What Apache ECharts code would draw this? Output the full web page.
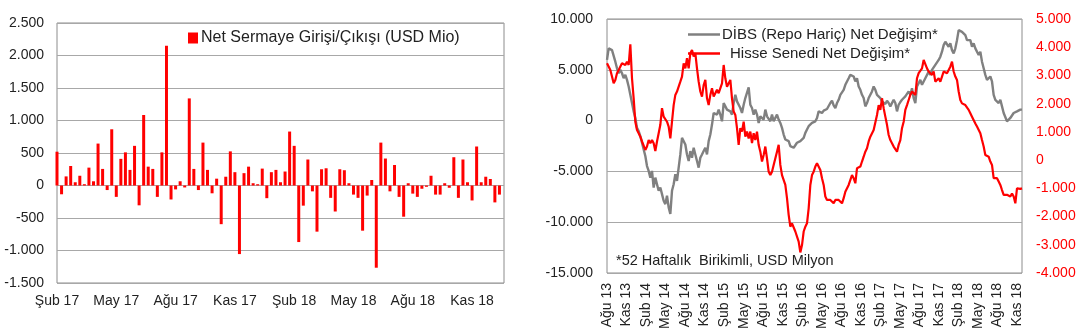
<!DOCTYPE html>
<html>
<head>
<meta charset="utf-8">
<script src="https://cdn.jsdelivr.net/npm/echarts@6/dist/echarts.min.js"></script>
<style>
  html, body { margin: 0; padding: 0; background: #ffffff; }
  #chart { width: 1081px; height: 335px; }
</style>
</head>
<body>
<div id="chart"></div>
<script>
// Weekly net capital flow, USD mn (Feb 2017 - Dec 2018)
const netFlows = [
  520, -135, 140, 300, 50, 150, 20, 275, 65, 645,
  255, -70, 865, -175, 410, 510, 240, 610, -305, 1085,
  290, 255, -175, 510, 2150, -215, -60, 65, -30, 1340,
  255, -70, 660, 240, -120, 105, -595, 135, 525, 205,
  -1055, 190, 290, 35, 20, 260, -195, 205, 240, 50,
  215, 830, 610, -870, -310, 400, -90, -710, 250, 265,
  -190, -400, 250, 235, 35, -140, -190, -695, -155, 85,
  -1265, 660, 415, -90, 315, -175, -480, 35, -125, -175,
  -50, -20, 150, -140, -140, 35, -35, 435, -190, 400,
  50, -230, 600, 50, 135, 100, -260, -140
];
const barTickLabels = ['Şub 17', 'May 17', 'Ağu 17', 'Kas 17', 'Şub 18', 'May 18', 'Ağu 18', 'Kas 18'];

// 52-week cumulative changes, USD mn (Aug 2013 - Dec 2018)
const dibsChange = [
  5970, 7110, 7270, 6940, 7110, 5800, 5150, 4660, 4990, 4660,
  4170, 4500, 4010, 3360, 2540, 1730, 910, 260, -720, -1040,
  -1530, -2180, -2840, -3490, -4470, -4960, -5610, -4960, -6590, -5610,
  -6260, -6910, -6590, -7240, -7890, -8220, -7400, -8540, -9190, -6910,
  -6260, -5280, -5930, -4630, -3330, -1700, -1530, -2350, -3330, -3980,
  -3000, -3650, -2670, -3330, -3980, -4630, -3650, -3330, -3000, -2670,
  -3330, -2020, -1370, -390, 750, 910, 590, 1080, 590, -70,
  1730, 1560, 1080, 1240, 910, 590, 1730, 2540, 1890, 1730,
  1240, 750, 1560, 2220, 2050, 3260, 1560, 1240, 590, 1080,
  590, -230, 420, 260, 100, 1080, 420, 590, -70, 590,
  -70, 100, 590, 100, -230, -720, -1370, -1860, -2020, -2020,
  -2510, -2350, -2670, -2840, -2180, -2350, -2020, -2180, -1700, -1210,
  -880, -550, -390, -230,
  -390, -70, 260, 910, 850, 750,
  980, 1080, 1140, 1240, 1730, 1960, 1500, 1240, 1730, 2050,
  2540, 2710, 3030, 3520, 3850, 4170, 4500, 4430, 4340, 3850,
  4170, 3360, 3030, 2540, 2220, 1400, 1730, 2220, 2380, 2870,
  3360, 3030, 2540, 2380, 2220, 1890, 1730, 1630, 1960, 1730,
  1400, 1560, 2050, 1730, 910, 1560, 1830, 2050, 1960, 2380,
  2540, 2870, 2540, 3190, 2220, 1730, 3360, 3680, 4010, 3520,
  3850, 4170, 4010, 4820, 4500, 4990, 5150, 5480, 5310, 5970,
  6290, 6780, 7430, 7760, 7600, 7270, 7600, 6940, 6620, 7110,
  7920, 8900, 9060, 8740, 8570, 8410, 7920, 7760, 7920, 7270,
  7600, 7110, 6940, 6450, 6780, 5800, 5150, 4500, 4010, 4170,
  4340, 3850, 2540, 2050, 1890, 1730, 2050, 1400, 750, 590,
  -70, -230, 260, 420, 750, 590, 910, 1080, 1080, 1080
];
const equityChange = [
  3430, 3370, 3190, 2960, 2720, 2840, 3080, 3190, 3250, 3430,
  3490, 3370, 3490, 3370, 4100, 2900, 2190, 1360, 1070, 950,
  830, 660, 600, 360, 480, 710, 600, 710, 600, 320,
  660, 950, 1250, 1840, 1540, 1600, 1360, 1190, 770, 1360,
  1950, 2310, 2430, 2490, 2780, 2960, 3430, 3250, 3610, 3250,
  3790, 3900, 3670, 3790, 3250, 2780, 2430, 2250, 2660, 2840,
  2190, 1950, 2310, 2550, 2250, 2370, 2490, 2370, 2430, 2720,
  3370, 2900, 2600, 2600, 2840, 2190, 1720, 1600, 1130, 540,
  1130, 1010, 1360, 830, 1010, 770, 1010, 600, 950, 710,
  1010, 540, 300, -50, 180, 480, 60, -410, -530, -410,
  -170, -110, 300, 540, -170, -530, -470, -880, -1350, -1940,
  -2360, -2240, -2300, -2530, -2590, -2890, -3270,
  -3010, -2530, -2360, -2240, -1710, -880, -530,
  -410, -230, -110, -50, -350, -640,
  -880, -1290, -1410, -1350, -1410, -1470, -1530, -1410, -1470, -1410,
  -1470, -1530, -1350, -1120, -1060, -880, -820, -530, -640, -820,
  -290, -230, -230, -50, 120, 300, 420, 660, 830, 830,
  1070, 1130, 1600, 1950, 1780, 2190, 1840, 1540, 1250, 890,
  710, 600, 480, 420, 300, 540, 710, 1130, 1360, 1780,
  1950, 2130, 2310, 2430, 2490, 2310, 2900, 3080, 3140, 3250,
  3550, 3490, 3250, 3140, 3190, 3020, 3140, 2780, 2720, 2900,
  2780, 2960, 3140, 3190, 3080, 3020, 3310, 3490, 3140, 2960,
  2840, 2430, 2130, 2010, 2070, 1950, 1900, 1780, 1660, 1540,
  1480, 1300, 1190, 1130, 950, 710, 480, 180, 180, 120,
  -50, -170, -640, -700, -640, -760, -880, -1060, -1230, -1290,
  -1230, -1230, -1290, -1180, -1290, -1530, -1000, -1000, -1020, -1000
];
const quarterLabels = [
  'Ağu 13', 'Kas 13', 'Şub 14', 'May 14', 'Ağu 14', 'Kas 14', 'Şub 15', 'May 15',
  'Ağu 15', 'Kas 15', 'Şub 16', 'May 16', 'Ağu 16', 'Kas 16', 'Şub 17', 'May 17',
  'Ağu 17', 'Kas 17', 'Şub 18', 'May 18', 'Ağu 18', 'Kas 18'
];

const BAR_NAME = 'Net Sermaye Girişi/Çıkışı (USD Mio)';
const DIBS_NAME = 'DİBS (Repo Hariç) Net Değişim*';
const EQ_NAME = 'Hisse Senedi Net Değişim*';
const NOTE = '*52 Haftalık  Birikimli, USD Milyon';

// week slots for the bar chart (one spare slot at the end of the axis)
const barWeeks = Array.from({ length: netFlows.length + 1 }, (_, i) => 'H' + (i + 1));
const lineSteps = dibsChange.map((_, i) => String(i));

const FONT = '"Liberation Sans", Arial, sans-serif';
const TEXT = '#222222';

function fmtTr(v) {
  const s = String(Math.abs(v)).replace(/\B(?=(\d{3})+(?!\d))/g, '.');
  return (v < 0 ? '-' : '') + s;
}

const chart = echarts.init(document.getElementById('chart'), null, { renderer: 'canvas' });

chart.setOption({
  animation: false,
  backgroundColor: '#ffffff',
  textStyle: { fontFamily: FONT },
  grid: [
    { left: 57, top: 23, width: 447, height: 260, show: true, borderColor: '#8c8c8c', borderWidth: 1, backgroundColor: 'transparent' },
    { left: 607, top: 19, width: 415, height: 254, show: true, borderColor: '#8c8c8c', borderWidth: 1, backgroundColor: 'transparent' }
  ],
  legend: [
    {
      data: [BAR_NAME],
      left: 188, top: 30, padding: 0,
      icon: 'rect', itemWidth: 10, itemHeight: 11,
      textStyle: { fontFamily: FONT, fontSize: 16, color: TEXT, padding: [0, 0, 0, -2] },
      selectedMode: false
    },
    {
      data: [DIBS_NAME, { name: EQ_NAME, textStyle: { padding: [0, 0, 0, 5] } }],
      orient: 'vertical',
      left: 688, top: 27, padding: 0,
      icon: 'rect', itemWidth: 32, itemHeight: 2.5, itemGap: 4,
      textStyle: { fontFamily: FONT, fontSize: 15, color: TEXT, padding: [0, 0, 0, -3] },
      selectedMode: false
    }
  ],
  xAxis: [
    {
      gridIndex: 0, type: 'category', data: barWeeks, boundaryGap: false,
      axisLine: { show: false }, axisTick: { show: false }, splitLine: { show: false },
      axisLabel: {
        interval: (i) => i % 13 === 0,
        formatter: (v, i) => barTickLabels[i / 13] || '',
        color: TEXT, fontFamily: FONT, fontSize: 14, margin: 11
      }
    },
    {
      gridIndex: 1, type: 'category', data: lineSteps, boundaryGap: false, show: false
    },
    {
      gridIndex: 1, type: 'value', position: 'bottom',
      min: 0, max: 21.26, interval: 1,
      axisLine: { show: false }, axisTick: { show: false }, splitLine: { show: false },
      axisLabel: {
        rotate: 90, margin: 10, showMaxLabel: false,
        formatter: (v) => Number.isInteger(v) ? (quarterLabels[v] || '') : '',
        color: TEXT, fontFamily: FONT, fontSize: 14
      }
    }
  ],
  yAxis: [
    {
      gridIndex: 0, type: 'value', min: -1500, max: 2500, interval: 500,
      axisLine: { show: false }, axisTick: { show: false },
      splitLine: { lineStyle: { color: '#a8a8a8', width: 1 } },
      axisLabel: { formatter: fmtTr, color: TEXT, fontFamily: FONT, fontSize: 14, margin: 13 }
    },
    {
      gridIndex: 1, type: 'value', min: -15000, max: 10000, interval: 5000,
      axisLine: { show: false }, axisTick: { show: false },
      splitLine: { lineStyle: { color: '#a8a8a8', width: 1 } },
      axisLabel: { formatter: fmtTr, color: TEXT, fontFamily: FONT, fontSize: 14, margin: 14 }
    },
    {
      gridIndex: 1, type: 'value', position: 'right', min: -4000, max: 5000, interval: 1000,
      axisLine: { show: false }, axisTick: { show: false }, splitLine: { show: false },
      axisLabel: { formatter: fmtTr, color: '#ff0000', fontFamily: FONT, fontSize: 14, margin: 14 }
    }
  ],
  series: [
    {
      name: BAR_NAME, type: 'bar', xAxisIndex: 0, yAxisIndex: 0,
      data: netFlows, barWidth: 3, clip: false,
      itemStyle: { color: '#ff0000' },
      emphasis: { disabled: true }
    },
    {
      name: DIBS_NAME, type: 'line', xAxisIndex: 1, yAxisIndex: 1,
      data: dibsChange, symbol: 'none', showSymbol: false,
      lineStyle: { color: '#808080', width: 2.4 },
      itemStyle: { color: '#808080' },
      emphasis: { disabled: true }
    },
    {
      name: EQ_NAME, type: 'line', xAxisIndex: 1, yAxisIndex: 2,
      data: equityChange, symbol: 'none', showSymbol: false,
      lineStyle: { color: '#ff0000', width: 2.2 },
      itemStyle: { color: '#ff0000' },
      emphasis: { disabled: true }
    }
  ],
  graphic: [
    {
      type: 'text', left: 616, top: 253,
      style: { text: NOTE, font: '14.5px ' + FONT, fill: TEXT }
    }
  ]
});
</script>
</body>
</html>
